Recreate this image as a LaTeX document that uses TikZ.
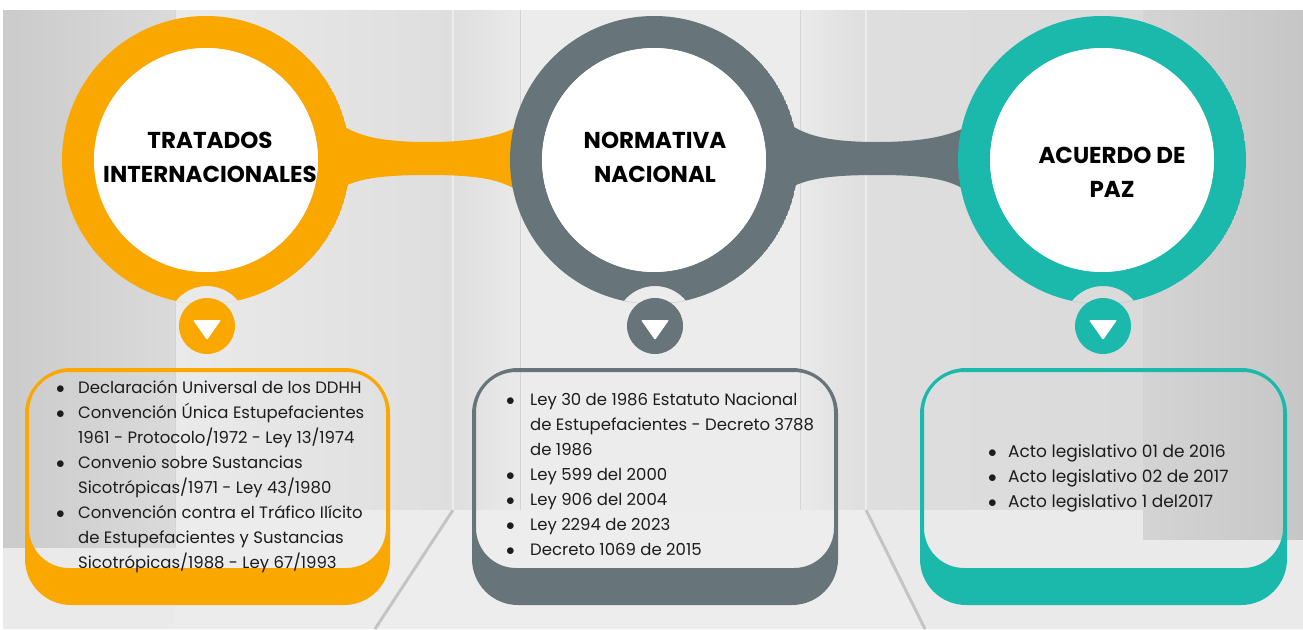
\documentclass[tikz,border=0pt]{standalone}
\usepackage{fontspec}
\setmainfont{Poppins}
\usetikzlibrary{calc}
\definecolor{orng}{RGB}{250,168,0}
\definecolor{slate}{RGB}{103,116,121}
\definecolor{tealc}{RGB}{26,185,172}
\definecolor{txt}{RGB}{28,28,28}
\definecolor{bgA}{RGB}{203,203,203}
\definecolor{bgB}{RGB}{218,218,218}
\definecolor{bgC}{RGB}{234,234,234}
\definecolor{bgD}{RGB}{222,222,222}
\definecolor{bgE}{RGB}{236,236,236}
\definecolor{bgF}{RGB}{212,212,212}
\definecolor{bgG}{RGB}{198,198,198}
\definecolor{floorc}{RGB}{237,237,237}
\definecolor{lnc}{RGB}{196,196,196}
\newlength\bw
\newcommand\itm{\makebox[\bw][l]{$\bullet$}}
\newcommand\cnt{\hspace*{\bw}}
\newcommand\bandpath{(330,116) -- (345,127) .. controls (362,137) and (385,142) .. (428,142) .. controls (470,142) and (495,137) .. (513,129) -- (530,118) -- (530,198) -- (513,188) .. controls (495,178) and (470,175) .. (428,175) .. controls (385,175) and (362,178) .. (345,186) -- (330,198) -- cycle}
\begin{document}
\begin{tikzpicture}[x=1pt,y=-1pt,
  head/.style={anchor=base, inner sep=0, text=black},
  lst/.style={anchor=base west, inner sep=0, text=txt},
  hole/.style={circle, fill=white, inner sep=0, minimum size=224pt},
  btn/.style={circle, inner sep=0, minimum size=56pt},
  panelline/.style={line width=3pt, lnc}
]
\useasboundingbox (0,0) rectangle (1303,629);
\fill[white] (0,0) rectangle (1303,629);
% ---------- background room ----------
\fill[bgD] (3,10) rectangle (1303,629);
\shade[left color=bgA, right color=bgB] (3,10) rectangle (175,548);
\shade[left color=bgC, right color=bgD] (175,10) rectangle (453,510);
\shade[left color=bgD, right color=bgC] (453,10) rectangle (520,510);
\fill[bgE] (520,10) rectangle (800,510);
\shade[left color=bgC, right color=bgD] (800,10) rectangle (866,510);
\shade[left color=bgD, right color=bgB] (866,10) rectangle (1143,510);
\shade[left color=bgF, right color=bgG] (1143,10) rectangle (1303,540);
\fill[bgC] (3,548) rectangle (175,629);
\fill[bgE] (175,510) -- (453,510) -- (375,629) -- (175,629) -- cycle;
\fill[floorc] (453,510) -- (866,510) -- (925,629) -- (375,629) -- cycle;
\fill[bgC] (866,510) -- (1143,510) -- (1143,540) -- (1303,540) -- (1303,629) -- (925,629) -- cycle;
\draw[panelline] (453,510) -- (375,629);
\draw[panelline] (866,510) -- (925,629);
\draw[white!85!gray, line width=2pt] (453,10) -- (453,510);
\draw[white!85!gray, line width=2pt] (866,10) -- (866,510);
\draw[bgF, line width=1pt] (520,10) -- (520,510);
\draw[bgF, line width=1pt] (800,10) -- (800,510);
\draw[bgF, line width=1pt] (175,10) -- (175,548);
\draw[bgF, line width=1pt] (1143,10) -- (1143,540);
% ---------- connectors ----------
\fill[orng] \bandpath;
\begin{scope}[xshift=449pt]
\fill[slate] \bandpath;
\end{scope}
% ---------- big rings ----------
\foreach \cx/\col/\bx in {206/orng/207, 654/slate/655, 1102/tealc/1103}{
  \begin{scope}
    \clip (\cx,160) circle (144);
    \fill[\col, even odd rule] (\cx,160) circle (144) (\cx,160) circle (112) (\bx,326) circle (40);
  \end{scope}
}
\node[hole] (w1) at (206,160) {};
\node[hole] (w2) at (654,160) {};
\node[hole] (w3) at (1102,160) {};
% ---------- headers ----------
\node[head] (h1) at (210,148) {\parbox[t]{320pt}{\centering\fontsize{23}{34}\selectfont\bfseries TRATADOS\\INTERNACIONALES}};
\node[head] (h2) at (655,148) {\parbox[t]{320pt}{\centering\fontsize{23}{34}\selectfont\bfseries NORMATIVA\\NACIONAL}};
\node[head] (h3) at (1112,163) {\parbox[t]{320pt}{\centering\fontsize{23}{34}\selectfont\bfseries ACUERDO DE\\PAZ}};
% ---------- buttons ----------
\node[btn, fill=orng] (b1) at (207,326) {};
\node[btn, fill=slate] (b2) at (655,326) {};
\node[btn, fill=tealc] (b3) at (1103,326) {};
\foreach \b in {b1,b2,b3}{
  \fill[white, rounded corners=1pt] ($(\b)+(-14,-6)$) -- ($(\b)+(14,-6)$) -- ($(\b)+(0,14)$) -- cycle;
}
% ---------- list boxes ----------
\fill[orng, even odd rule]
  [rounded corners=46pt] (25,368) rectangle (390,605)
  [rounded corners=40pt] (29,372) rectangle (386,568);
\fill[slate, even odd rule]
  [rounded corners=46pt] (472,368) rectangle (838,605)
  [rounded corners=40pt] (476,372) rectangle (834,568);
\fill[tealc, even odd rule]
  [rounded corners=46pt] (920,368) rectangle (1287,605)
  [rounded corners=40pt] (924,372) rectangle (1283,568);
% ---------- lists ----------
\node[lst] (l1) at (56,393) {\parbox[t]{340pt}{\setlength\bw{22pt}\fontsize{16.5}{25}\selectfont\raggedright
\itm Declaración Universal de los DDHH\\
\itm Convención Única Estupefacientes\\
\cnt 1961 - Protocolo/1972 - Ley 13/1974\\
\itm Convenio sobre Sustancias\\
\cnt Sicotrópicas/1971 - Ley 43/1980\\
\itm Convención contra el Tráfico Ilícito\\
\cnt de Estupefacientes y Sustancias\\
\cnt Sicotrópicas/1988 - Ley 67/1993}};
\node[lst] (l2) at (506,405) {\parbox[t]{340pt}{\setlength\bw{24pt}\fontsize{16.5}{25}\selectfont\raggedright
\itm Ley 30 de 1986 Estatuto Nacional\\
\cnt de Estupefacientes - Decreto 3788\\
\cnt de 1986\\
\itm Ley 599 del 2000\\
\itm Ley 906 del 2004\\
\itm Ley 2294 de 2023\\
\itm Decreto 1069 de 2015}};
\node[lst] (l3) at (988,457) {\parbox[t]{300pt}{\setlength\bw{20pt}\fontsize{17}{25}\selectfont\raggedright
\itm Acto legislativo 01 de 2016\\
\itm Acto legislativo 02 de 2017\\
\itm Acto legislativo 1 del2017}};
\end{tikzpicture}
\end{document}
